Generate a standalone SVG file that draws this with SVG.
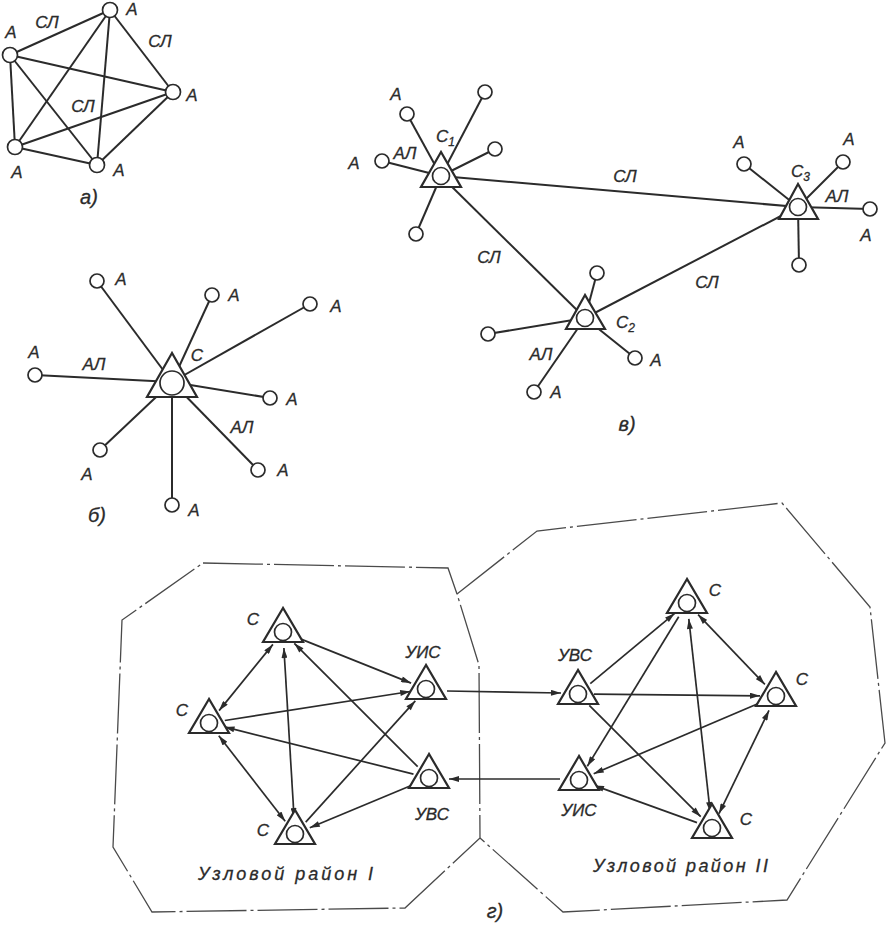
<svg xmlns="http://www.w3.org/2000/svg" width="887" height="925" viewBox="0 0 887 925">
<defs>
<style>
.ln{stroke:#2b2b2b;stroke-width:2;fill:none}
.nd{fill:#fff;stroke:#2b2b2b;stroke-width:1.7}
.tr{fill:#fff;stroke:#2b2b2b;stroke-width:2.2}
.tx{font-family:"Liberation Sans","DejaVu Sans",sans-serif;font-style:italic;font-size:17px;fill:#2b2b2b;text-anchor:middle;stroke:#2b2b2b;stroke-width:0.3}
.sub{font-size:12px}
.big{font-size:20px}
.reg{font-size:18px}
.bd{fill:none;stroke:#4a4a4a;stroke-width:1.3;stroke-dasharray:60 4 3 4}
.ar{stroke:#2b2b2b;stroke-width:1.7;fill:none;marker-end:url(#ah)}
.ar2{stroke:#2b2b2b;stroke-width:1.7;fill:none;marker-start:url(#ah);marker-end:url(#ah)}
</style>
<marker id="ah" viewBox="0 0 10 6" refX="10" refY="3" markerWidth="11" markerHeight="6" markerUnits="userSpaceOnUse" orient="auto-start-reverse">
<path d="M0,0 L10,3 L0,6 z" fill="#2b2b2b"/>
</marker>
</defs>
<rect width="887" height="925" fill="#fff"/>

<!-- boundaries of (г) -->
<g id="boundaries">
<polygon class="bd" points="203,563 448,568 457,594 479,665 480,838 405,908 152,912 113,847 122,620"/>
<polyline class="bd" points="457,594 537,531 782,503 870,607 885,743 787,900 563,912 480,838"/>
</g>

<!-- connectors -->
<g id="connectors">
<!-- (а) full mesh -->
<line class="ln" x1="110" y1="10" x2="10" y2="55"/>
<line class="ln" x1="110" y1="10" x2="173" y2="92"/>
<line class="ln" x1="110" y1="10" x2="15" y2="147"/>
<line class="ln" x1="110" y1="10" x2="97" y2="165"/>
<line class="ln" x1="10" y1="55" x2="173" y2="92"/>
<line class="ln" x1="10" y1="55" x2="15" y2="147"/>
<line class="ln" x1="10" y1="55" x2="97" y2="165"/>
<line class="ln" x1="173" y1="92" x2="15" y2="147"/>
<line class="ln" x1="173" y1="92" x2="97" y2="165"/>
<line class="ln" x1="15" y1="147" x2="97" y2="165"/>
<!-- (б) star -->
<line class="ln" x1="97" y1="281" x2="172" y2="382"/>
<line class="ln" x1="212" y1="295" x2="172" y2="382"/>
<line class="ln" x1="310" y1="304" x2="172" y2="382"/>
<line class="ln" x1="35" y1="375" x2="172" y2="382"/>
<line class="ln" x1="270" y1="398" x2="172" y2="382"/>
<line class="ln" x1="100" y1="450" x2="172" y2="382"/>
<line class="ln" x1="258" y1="470" x2="172" y2="382"/>
<line class="ln" x1="172" y1="505" x2="172" y2="382"/>
<!-- (в) -->
<line class="ln" x1="441" y1="176" x2="798" y2="207"/>
<line class="ln" x1="441" y1="176" x2="585" y2="318"/>
<line class="ln" x1="585" y1="318" x2="798" y2="207"/>
<line class="ln" x1="407" y1="114" x2="441" y2="176"/>
<line class="ln" x1="485" y1="92" x2="441" y2="176"/>
<line class="ln" x1="495" y1="149" x2="441" y2="176"/>
<line class="ln" x1="382" y1="161" x2="441" y2="176"/>
<line class="ln" x1="416" y1="234" x2="441" y2="176"/>
<line class="ln" x1="597" y1="273" x2="585" y2="318"/>
<line class="ln" x1="488" y1="334" x2="585" y2="318"/>
<line class="ln" x1="635" y1="358" x2="585" y2="318"/>
<line class="ln" x1="534" y1="392" x2="585" y2="318"/>
<line class="ln" x1="744" y1="164" x2="798" y2="207"/>
<line class="ln" x1="843" y1="162" x2="798" y2="207"/>
<line class="ln" x1="870" y1="209" x2="798" y2="207"/>
<line class="ln" x1="799" y1="265" x2="798" y2="207"/>
<!-- (г) region I -->
<line class="ar2" x1="272.9" y1="644.4" x2="219.1" y2="710.6"/>
<line class="ar" x1="297.9" y1="637.9" x2="411.1" y2="683.1"/>
<line class="ar" x1="224.8" y1="720.5" x2="410.2" y2="691.5"/>
<line class="ar" x1="413.5" y1="774.1" x2="224.5" y2="726.9"/>
<line class="ar" x1="417.7" y1="766.7" x2="294.3" y2="643.3"/>
<line class="ar2" x1="283.9" y1="648" x2="294.1" y2="818"/>
<line class="ar2" x1="218.8" y1="735.7" x2="285.2" y2="821.3"/>
<line class="ar" x1="305.7" y1="822.1" x2="415.3" y2="700.9"/>
<line class="ar" x1="414.2" y1="784.2" x2="309.8" y2="827.8"/>
<!-- between regions -->
<line class="ar" x1="447" y1="691" x2="561" y2="693"/>
<line class="ar" x1="560" y1="779" x2="449" y2="779"/>
<!-- (г) region II -->
<line class="ar" x1="590.3" y1="683.7" x2="674.7" y2="613.3"/>
<line class="ar" x1="594" y1="694.2" x2="760" y2="695.8"/>
<line class="ar" x1="589.3" y1="705.3" x2="700.7" y2="816.7"/>
<line class="ar2" x1="698.1" y1="614.6" x2="764.9" y2="684.4"/>
<line class="ar" x1="678.7" y1="616.7" x2="587.3" y2="766.3"/>
<line class="ar2" x1="688.8" y1="618.9" x2="710.2" y2="812.1"/>
<line class="ar" x1="761.3" y1="702.3" x2="593.7" y2="773.7"/>
<line class="ar2" x1="769" y1="710.4" x2="719" y2="813.6"/>
<line class="ar" x1="697" y1="822.6" x2="594" y2="785.4"/>
</g>

<!-- edge labels -->
<g id="edge-labels">
<text class="tx" x="47" y="28">СЛ</text>
<text class="tx" x="160" y="47">СЛ</text>
<text class="tx" x="83" y="112">СЛ</text>
<text class="tx" x="94" y="370">АЛ</text>
<text class="tx" x="242" y="433">АЛ</text>
<text class="tx" x="405" y="159">АЛ</text>
<text class="tx" x="625" y="182">СЛ</text>
<text class="tx" x="489" y="263">СЛ</text>
<text class="tx" x="707" y="288">СЛ</text>
<text class="tx" x="541" y="360">АЛ</text>
<text class="tx" x="837" y="202">АЛ</text>
</g>

<!-- (а) nodes -->
<g id="a-n1"><circle class="nd" cx="110" cy="10" r="7.5"/><text class="tx" x="132" y="15">А</text></g>
<g id="a-n2"><circle class="nd" cx="10" cy="55" r="7.5"/><text class="tx" x="11" y="38">А</text></g>
<g id="a-n3"><circle class="nd" cx="173" cy="92" r="7.5"/><text class="tx" x="192" y="101">А</text></g>
<g id="a-n4"><circle class="nd" cx="15" cy="147" r="7.5"/><text class="tx" x="17" y="178">А</text></g>
<g id="a-n5"><circle class="nd" cx="97" cy="165" r="7.5"/><text class="tx" x="119" y="176">А</text></g>
<text class="tx big" x="89" y="204">а)</text>

<!-- (б) nodes -->
<g id="b-c"><polygon class="tr" points="172,353 147,397 197,397"/><circle class="nd" cx="172" cy="383" r="12"/><text class="tx" x="197" y="361">С</text></g>
<g id="b-n1"><circle class="nd" cx="97" cy="281" r="7"/><text class="tx" x="121" y="285">А</text></g>
<g id="b-n2"><circle class="nd" cx="212" cy="295" r="7"/><text class="tx" x="234" y="301">А</text></g>
<g id="b-n3"><circle class="nd" cx="310" cy="304" r="7"/><text class="tx" x="336" y="312">А</text></g>
<g id="b-n4"><circle class="nd" cx="35" cy="375" r="7"/><text class="tx" x="34" y="358">А</text></g>
<g id="b-n5"><circle class="nd" cx="270" cy="398" r="7"/><text class="tx" x="292" y="405">А</text></g>
<g id="b-n6"><circle class="nd" cx="100" cy="450" r="7"/><text class="tx" x="87" y="480">А</text></g>
<g id="b-n7"><circle class="nd" cx="258" cy="470" r="7"/><text class="tx" x="283" y="476">А</text></g>
<g id="b-n8"><circle class="nd" cx="172" cy="505" r="7"/><text class="tx" x="194" y="516">А</text></g>
<text class="tx big" x="97" y="522">б)</text>

<!-- (в) nodes -->
<g id="v-c1"><polygon class="tr" points="441,152 421,187 461,187"/><circle class="nd" cx="441" cy="176" r="8.5"/><text class="tx" x="436" y="142" style="text-anchor:start">С<tspan class="sub" dy="4">1</tspan></text></g>
<g id="v-c2"><polygon class="tr" points="585,295 566,329 605,329"/><circle class="nd" cx="585" cy="318" r="8.5"/><text class="tx" x="616" y="328" style="text-anchor:start">С<tspan class="sub" dy="4">2</tspan></text></g>
<g id="v-c3"><polygon class="tr" points="798,184 779,219 818,219"/><circle class="nd" cx="798" cy="207" r="8.5"/><text class="tx" x="791" y="177" style="text-anchor:start">С<tspan class="sub" dy="4">3</tspan></text></g>
<g id="v-n1"><circle class="nd" cx="407" cy="114" r="7"/><text class="tx" x="396" y="100">А</text></g>
<g id="v-n2"><circle class="nd" cx="485" cy="92" r="7"/></g>
<g id="v-n3"><circle class="nd" cx="495" cy="149" r="7"/></g>
<g id="v-n4"><circle class="nd" cx="382" cy="161" r="7"/><text class="tx" x="354" y="169">А</text></g>
<g id="v-n5"><circle class="nd" cx="416" cy="234" r="7"/></g>
<g id="v-n6"><circle class="nd" cx="597" cy="273" r="7"/></g>
<g id="v-n7"><circle class="nd" cx="488" cy="334" r="7"/></g>
<g id="v-n8"><circle class="nd" cx="635" cy="358" r="7"/><text class="tx" x="656" y="366">А</text></g>
<g id="v-n9"><circle class="nd" cx="534" cy="392" r="7"/><text class="tx" x="556" y="398">А</text></g>
<g id="v-n10"><circle class="nd" cx="744" cy="164" r="7"/><text class="tx" x="739" y="148">А</text></g>
<g id="v-n11"><circle class="nd" cx="843" cy="162" r="7"/><text class="tx" x="849" y="145">А</text></g>
<g id="v-n12"><circle class="nd" cx="870" cy="209" r="7"/><text class="tx" x="866" y="241">А</text></g>
<g id="v-n13"><circle class="nd" cx="799" cy="265" r="7"/></g>
<text class="tx big" x="627" y="431">в)</text>

<!-- (г) region I nodes -->
<g id="g1-ct"><polygon class="tr" points="283,608 263,642 303,642"/><circle class="nd" cx="283" cy="632" r="8.5"/><text class="tx" x="253" y="625">С</text></g>
<g id="g1-cl"><polygon class="tr" points="209,699 189,733 229,733"/><circle class="nd" cx="209" cy="723" r="8.5"/><text class="tx" x="182" y="716">С</text></g>
<g id="g1-cb"><polygon class="tr" points="295,810 275,844 315,844"/><circle class="nd" cx="295" cy="834" r="8.5"/><text class="tx" x="263" y="836">С</text></g>
<g id="g1-uis"><polygon class="tr" points="426,665 406,699 446,699"/><circle class="nd" cx="426" cy="689" r="8.5"/><text class="tx" x="423" y="658">УИС</text></g>
<g id="g1-uvs"><polygon class="tr" points="429,754 409,788 449,788"/><circle class="nd" cx="429" cy="778" r="8.5"/><text class="tx" x="432" y="820">УВС</text></g>
<text class="tx reg" x="198" y="880" style="text-anchor:start" textLength="175" lengthAdjust="spacing">Узловой район I</text>

<!-- (г) region II nodes -->
<g id="g2-ct"><polygon class="tr" points="687,579 667,613 707,613"/><circle class="nd" cx="687" cy="603" r="8.5"/><text class="tx" x="715" y="596">С</text></g>
<g id="g2-uvs"><polygon class="tr" points="578,670 558,704 598,704"/><circle class="nd" cx="578" cy="694" r="8.5"/><text class="tx" x="575" y="661">УВС</text></g>
<g id="g2-cr"><polygon class="tr" points="776,672 756,706 796,706"/><circle class="nd" cx="776" cy="696" r="8.5"/><text class="tx" x="802" y="685">С</text></g>
<g id="g2-uis"><polygon class="tr" points="579,756 559,790 599,790"/><circle class="nd" cx="579" cy="780" r="8.5"/><text class="tx" x="579" y="816">УИС</text></g>
<g id="g2-cb"><polygon class="tr" points="712,804 692,838 732,838"/><circle class="nd" cx="712" cy="828" r="8.5"/><text class="tx" x="746" y="825">С</text></g>
<text class="tx reg" x="593" y="872" style="text-anchor:start" textLength="175" lengthAdjust="spacing">Узловой район II</text>
<text class="tx big" x="495" y="918">г)</text>
</svg>
